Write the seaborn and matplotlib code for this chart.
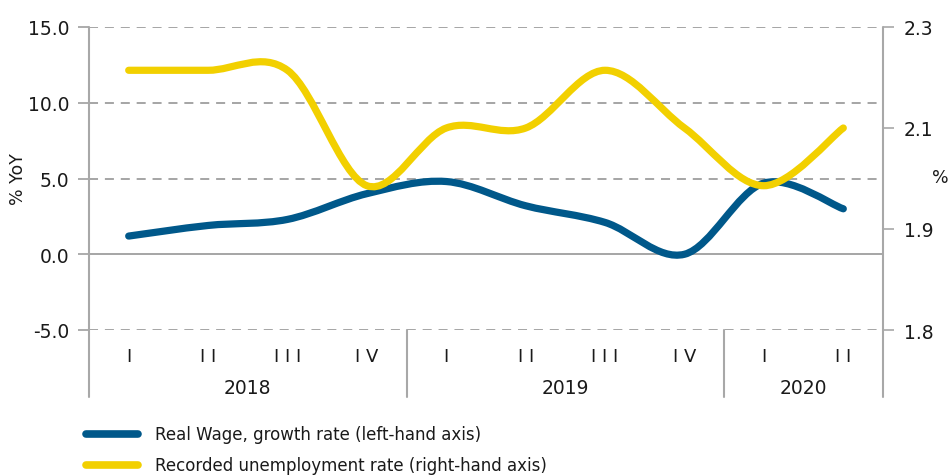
import matplotlib
matplotlib.use("Agg")
import numpy as np
import matplotlib.pyplot as plt
from matplotlib.path import Path
from matplotlib.patches import PathPatch
from matplotlib.lines import Line2D
from matplotlib.ticker import FormatStrFormatter
from matplotlib.transforms import blended_transform_factory
import seaborn as sns

# ---- data ---------------------------------------------------------------
years = ["2018", "2019", "2020"]
quarters_per_year = [4, 4, 2]
quarter_labels = ["I", "I I", "I I I", "I V", "I", "I I", "I I I", "I V", "I", "I I"]
real_wage_growth = [1.2, 1.9, 2.3, 4.0, 4.8, 3.2, 2.1, 0.0, 4.7, 3.0]      # % YoY, left axis
unemployment_rate = [2.2, 2.2, 2.2, 2.0, 2.1, 2.1, 2.2, 2.1, 2.0, 2.1]     # %, right axis
left_ticks = [-5, 0, 5, 10, 15]
right_ticks = [1.75, 1.925, 2.1, 2.275]
series_names = ["Real Wage, growth rate (left-hand axis)",
                "Recorded unemployment rate (right-hand axis)"]

BLUE = "#00588A"
YELLOW = "#F2D000"
GRID = "#9E9E9E"
AXIS = "#A8A8A8"
TEXT = "#1A1A1A"

sns.set_theme(style="white")
plt.rcParams["font.family"] = ["DejaVu Sans"]


def smooth_path(xs, ys):
    """Cubic Bezier path through the points (Catmull-Rom style tangents)."""
    pts = np.column_stack([xs, ys]).astype(float)
    n = len(pts)
    verts = [pts[0]]
    codes = [Path.MOVETO]
    for i in range(n - 1):
        p0 = pts[max(i - 1, 0)]
        p1 = pts[i]
        p2 = pts[i + 1]
        p3 = pts[min(i + 2, n - 1)]
        verts += [p1 + (p2 - p0) / 6.0, p2 - (p3 - p1) / 6.0, p2]
        codes += [Path.CURVE4] * 3
    return Path(verts, codes)


W, H = 953, 477
fig = plt.figure(figsize=(W / 100, H / 100), dpi=100)
ax_l, ax_r, ax_t, ax_b = 89, 883, 28, 331
ax = fig.add_axes([ax_l / W, 1 - ax_b / H, (ax_r - ax_l) / W, (ax_b - ax_t) / H])
ax2 = ax.twinx()

x = np.arange(len(quarter_labels))
ax.set_xlim(-0.5, len(x) - 0.5)
ax.set_ylim(-5, 15)
ax2.set_ylim(1.75, 2.275)

for a in (ax, ax2):
    for s in a.spines.values():
        s.set_visible(False)
    a.set_facecolor("none")
ax.patch.set_visible(False)

# horizontal reference lines
for v in left_ticks:
    if v == 0:
        ax.axhline(v, color=GRID, lw=1.3, zorder=1)
    else:
        ax.axhline(v, color=GRID, lw=1.3, dashes=(5, 3.8), zorder=1)

# axis frame and category separators extending below the plot
frame_bottom = -(398 - ax_b) / (ax_b - ax_t)
for xa in (0, 1):
    ax.add_line(Line2D([xa, xa], [frame_bottom, 1], transform=ax.transAxes,
                       color=AXIS, lw=1.5, clip_on=False, zorder=2))
blend = blended_transform_factory(ax.transData, ax.transAxes)
bounds = np.cumsum(quarters_per_year)[:-1] - 0.5
for b in bounds:
    ax.add_line(Line2D([b, b], [frame_bottom, 0], transform=blend,
                       color=AXIS, lw=1.5, clip_on=False))

# y ticks
ax.set_yticks(left_ticks)
ax.yaxis.set_major_formatter(FormatStrFormatter("%.1f"))
ax.tick_params(axis="y", left=True, length=8, width=1.2, color=GRID, pad=6,
               labelsize=13.5, labelcolor=TEXT)
ax2.set_yticks(right_ticks)
ax2.yaxis.set_major_formatter(FormatStrFormatter("%.1f"))
ax2.tick_params(axis="y", right=True, length=8, width=1.2, color=AXIS, pad=7,
                labelsize=13.5, labelcolor=TEXT)

# category labels
ax.set_xticks([])
for xi, lab in zip(x, quarter_labels):
    ax.text(xi, -(357 - ax_b) / (ax_b - ax_t), lab, transform=blend,
            ha="center", va="center", fontsize=13, color=TEXT)
start = 0
for yr, nq in zip(years, quarters_per_year):
    ax.text(start + (nq - 1) / 2, -(388 - ax_b) / (ax_b - ax_t), yr, transform=blend,
            ha="center", va="center", fontsize=13.5, color=TEXT)
    start += nq

# smoothed series
ax.add_patch(PathPatch(smooth_path(x, real_wage_growth), transform=ax.transData,
                       fill=False, edgecolor=BLUE, lw=5.2, capstyle="round",
                       joinstyle="round", zorder=3))
ax2.add_patch(PathPatch(smooth_path(x, unemployment_rate), transform=ax2.transData,
                        fill=False, edgecolor=YELLOW, lw=5.2, capstyle="round",
                        joinstyle="round", zorder=3))

# axis titles
fig.text(18 / W, 1 - 179 / H, "% YoY", rotation=90, ha="center", va="center",
         fontsize=12.5, color=TEXT)
fig.text(949 / W, 1 - 178 / H, "%", ha="right", va="center", fontsize=12.5, color=TEXT)

# legend
for i, (name, col) in enumerate(zip(series_names, [BLUE, YELLOW])):
    yy = 1 - (435 + 31 * i) / H
    fig.add_artist(Line2D([86 / W, 138 / W], [yy, yy], transform=fig.transFigure,
                          color=col, lw=5.5, solid_capstyle="round"))
    fig.text(155 / W, yy, name, ha="left", va="center", fontsize=12, color=TEXT)

fig.savefig("out.png", dpi=100, facecolor="white")
